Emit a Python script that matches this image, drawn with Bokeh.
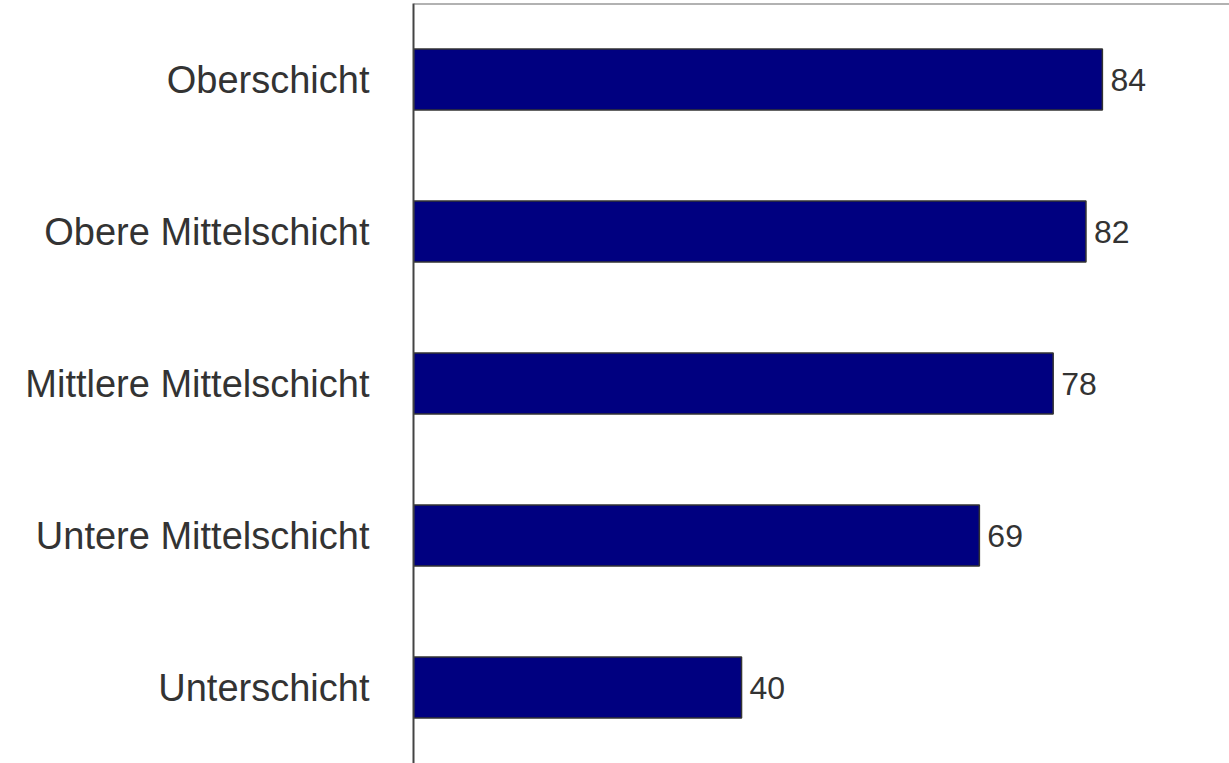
from bokeh.plotting import figure
from bokeh.models import ColumnDataSource, FactorRange, Range1d, Span
from bokeh.core.properties import value
from bokeh.embed import file_html
from bokeh.resources import INLINE

categories = ["Oberschicht", "Obere Mittelschicht", "Mittlere Mittelschicht",
              "Untere Mittelschicht", "Unterschicht"]
values = [84, 82, 78, 69, 40]
value_labels = ["84", "82", "78", "69", "40"]

order = list(reversed(categories))
src = ColumnDataSource(dict(cat=categories, val=values, lab=value_labels))

p = figure(width=1229, height=763, output_backend="svg", toolbar_location=None,
           y_range=FactorRange(factors=order, range_padding=0),
           x_range=Range1d(0, 99.5), x_axis_location=None,
           min_border_left=413, min_border_top=3, min_border_bottom=0,
           min_border_right=0)
p.outline_line_color = None
p.background_fill_color = "white"
p.border_fill_color = "white"
p.xgrid.visible = False
p.ygrid.visible = False

p.hbar(y="cat", right="val", left=0, height=0.4, source=src,
       fill_color="#000080", line_color="#333333", line_width=1.5)

p.text(x="val", y="cat", text="lab", source=src, x_offset=8,
       text_baseline="middle", text_align="left",
       text_font=value("Liberation Sans"), text_font_size="32px",
       text_color="#333333")

ax = p.yaxis[0]
ax.major_tick_line_color = None
ax.minor_tick_line_color = None
ax.major_tick_out = 0
ax.major_tick_in = 0
ax.axis_line_color = "#444444"
ax.axis_line_width = 2
ax.major_label_standoff = 44
ax.major_label_text_font = "Liberation Sans"
ax.major_label_text_font_size = "38px"
ax.major_label_text_color = "#333333"

top = Span(location=5, dimension="width", line_color="#666666", line_width=2)
p.add_layout(top)

open("out.html", "w").write(file_html(p, INLINE))
